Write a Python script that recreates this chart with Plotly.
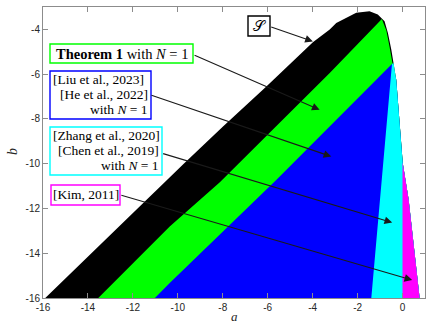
import plotly.graph_objects as go

# ---------------- data ----------------
# upper-left boundary of S (a, b)
s_upper_a = [-15.9, -14.65, -11.24, -9.76, -7.99, -6.06, -3.99, -3.24, -2.95, -2.06, -1.47, -1.1, -0.8, -0.65, -0.5, -0.4]
s_upper_b = [-16.0, -14.78, -11.42, -10.02, -8.34, -6.55, -4.58, -4.0, -3.71, -3.26, -3.19, -3.34, -3.64, -4.16, -4.9, -5.5]
# right boundary of S below the cap
s_right_a = [-0.28, 0.01, 0.27, 0.76]
s_right_b = [-6.25, -9.98, -11.6, -16.0]
# green / black boundary line
green_left_a = [-13.54, -10.36, -8.13, -4.21, -3.24, -0.92]
green_left_b = [-16.0, -12.81, -10.83, -6.88, -5.95, -3.54]
# right edge of green (inside the S cap)
green_right_a = [-0.72, -0.58, -0.46]
green_right_b = [-4.05, -4.76, -5.45]
# blue / green boundary line
blue_left_a = [-11.02, -10.36, -5.61, -4.72, -0.47]
blue_left_b = [-16.0, -15.33, -10.72, -9.83, -5.55]
# cyan / blue boundary line
cyan_left_a = [-0.47, -0.51, -1.0, -1.39]
cyan_left_b = [-5.55, -6.25, -11.6, -16.0]
# magenta region: a >= 0 part of S
magenta_left_a = [0.0, 0.0]
magenta_left_b = [-9.98, -16.0]

x_ticks = [-16, -14, -12, -10, -8, -6, -4, -2, 0]
x_ticktext = ["-16", "-14", "-12", "-10", "-8", "-6", "-4", "-2", "0"]
y_ticks = [-16, -14, -12, -10, -8, -6, -4]
y_ticktext = ["-16", "-14", "-12", "-10", "-8", "-6", "-4"]

# arrows: tail (a,b) -> tip (a,b)
arrow_tail_a = [-5.91, -9.32, -11.24, -10.72, -12.58]
arrow_tail_b = [-3.87, -5.13, -6.92, -9.53, -11.39]
arrow_tip_a = [-3.99, -3.69, -3.17, -0.46, 0.43]
arrow_tip_b = [-4.54, -7.59, -9.68, -12.63, -15.2]

# ---------------- layout helpers (pixel placement of the label boxes) ----------------
W, H = 427, 325
L, R, T, B = 43, 2, 7, 27
PW, PH = W - L - R, H - T - B

def px(x):
    return (x - L) / PW

def py(y):
    return (T + PH - y) / PH

# boxes: (left, top, right, bottom, colour) in pixels
boxes = [
    (248, 16, 270, 36, "#000000"),
    (50, 44, 193, 63, "#00ff00"),
    (50, 71, 151, 119, "#0000ff"),
    (50, 127, 162, 175, "#00ffff"),
    (51, 185, 120, 205, "#ff00ff"),
]
# text lines: (text, x, y, anchor, size)
lines = [
    ("𝒮", 259, 26, "center", 15),
    ("<b>Theorem 1</b> with <i>N</i> = 1", 121.5, 54, "center", 14.5),
    ("[Liu et al., 2023]", 51.5, 79, "left", 13.5),
    ("[He et al., 2022]", 148.5, 94.5, "right", 13.5),
    ("with <i>N</i> = 1", 148.5, 109.5, "right", 13.5),
    ("[Zhang et al., 2020]", 51.5, 135, "left", 13.5),
    ("[Chen et al., 2019]", 159.5, 150.5, "right", 13.5),
    ("with <i>N</i> = 1", 159.5, 165.5, "right", 13.5),
    ("[Kim, 2011]", 85.5, 195, "center", 13.5),
]

# ---------------- figure ----------------
fig = go.Figure()

def poly(a_list, b_list, color):
    fig.add_trace(go.Scatter(x=a_list + [a_list[0]], y=b_list + [b_list[0]], mode="lines",
                             fill="toself", fillcolor=color, line=dict(width=0, color=color),
                             hoverinfo="skip"))

# S (black): upper boundary then right boundary
poly(s_upper_a + s_right_a, s_upper_b + s_right_b, "#000000")
# green and everything to its right
poly(green_left_a + green_right_a + s_right_a,
     green_left_b + green_right_b + s_right_b, "#00ff00")
# blue and everything to its right
poly(blue_left_a + s_right_a, blue_left_b + s_right_b, "#0000ff")
# cyan and everything to its right
poly(cyan_left_a[::-1] + [-0.4] + s_right_a, cyan_left_b[::-1] + [-5.5] + s_right_b, "#00ffff")
# magenta
poly(magenta_left_a + s_right_a[2:][::-1] + [s_right_a[1]],
     magenta_left_b + s_right_b[2:][::-1] + [s_right_b[1]], "#ff00ff")

# arrows
for ta, tb, ha, hb in zip(arrow_tail_a, arrow_tail_b, arrow_tip_a, arrow_tip_b):
    fig.add_annotation(x=ha, y=hb, ax=ta, ay=tb, xref="x", yref="y", axref="x", ayref="y",
                       text="", showarrow=True, arrowhead=2, arrowsize=1.4, arrowwidth=1.1,
                       arrowcolor="#1a1a1a")

serif = "Liberation Serif"
for x0, y0, x1, y1, c in boxes:
    fig.add_shape(type="rect", xref="paper", yref="paper", x0=px(x0), x1=px(x1), y0=py(y1), y1=py(y0),
                  line=dict(color=c, width=1.4), fillcolor="white", layer="above")

for t, x, y, anc, size in lines:
    fig.add_annotation(x=px(x), y=py(y), xref="paper", yref="paper", text=t, showarrow=False,
                       xanchor=anc, yanchor="middle", borderpad=0,
                       font=dict(family=serif, size=size, color="#000000"))

# axis labels
fig.add_annotation(x=px(234), y=py(316), xref="paper", yref="paper", text="<i>a</i>", showarrow=False,
                   font=dict(family=serif, size=13, color="#262626"), xanchor="center", yanchor="middle")
fig.add_annotation(x=px(12), y=py(152), xref="paper", yref="paper", text="<i>b</i>", showarrow=False,
                   textangle=-90, font=dict(family=serif, size=14, color="#262626"),
                   xanchor="center", yanchor="middle")

axis_common = dict(showgrid=False, zeroline=False, showline=True, linecolor="#8c8c8c", linewidth=1,
                   ticks="inside", ticklen=5, tickcolor="#8c8c8c", mirror="ticks", automargin=False,
                   tickfont=dict(family="Liberation Sans", size=10, color="#262626"))
fig.update_xaxes(range=[-16, 1], tickvals=x_ticks, ticktext=x_ticktext, **axis_common)
fig.update_yaxes(range=[-16, -3], tickvals=y_ticks, ticktext=y_ticktext, **axis_common)

fig.update_layout(width=W, height=H, margin=dict(l=L, r=R, t=T, b=B, autoexpand=False),
                  plot_bgcolor="white", paper_bgcolor="white", showlegend=False)

fig.write_html("out.html", config={"displayModeBar": False},
               post_script="document.body.style.margin='0';document.body.style.overflow='hidden';")
